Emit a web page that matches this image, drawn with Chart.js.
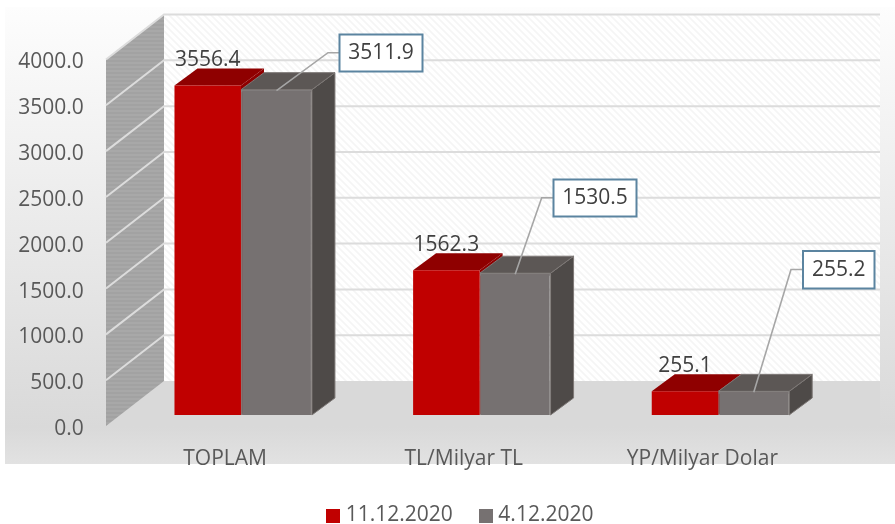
<!DOCTYPE html>
<html>
<head>
<meta charset="utf-8">
<title>Chart</title>
<style>html,body{margin:0;padding:0;background:#fff}canvas{display:block}</style>
<script src="https://cdn.jsdelivr.net/npm/chart.js@4"></script>
</head>
<body>
<canvas id="c" width="895" height="524"></canvas>
<script>
const categories = ['TOPLAM', 'TL/Milyar TL', 'YP/Milyar Dolar'];
const seriesA = [3556.4, 1562.3, 255.1];
const seriesB = [3511.9, 1530.5, 255.2];
const seriesNames = ['11.12.2020', '4.12.2020'];
const axisMax = 4000;
const axisStep = 500;

const FONT = '"Open Sans", "Noto Sans", sans-serif';
const WALL = { dx: 58, dy: -45, lift: -3, floorRight: 880 };
const DEPTH = { dx: 23, dy: -17 };
const CALLOUTS = [
  { box: [339.5, 34.5, 83, 37], bend: [328, 52.7] },
  { box: [553.5, 179.5, 83, 37], bend: [541.7, 197.7] },
  { box: [803, 251, 71.5, 37.5], bend: [791, 269.5] }
];

function hatchPattern(ctx) {
  const p = document.createElement('canvas');
  p.width = p.height = 7;
  const g = p.getContext('2d');
  g.fillStyle = '#ffffff'; g.fillRect(0, 0, 7, 7);
  g.strokeStyle = '#f5f5f5'; g.lineWidth = 1.6;
  g.beginPath();
  g.moveTo(-1, -1); g.lineTo(8, 8);
  g.moveTo(-8, -1); g.lineTo(1, 8);
  g.moveTo(6, -1); g.lineTo(15, 8);
  g.stroke();
  return ctx.createPattern(p, 'repeat');
}
function stripePattern(ctx) {
  const p = document.createElement('canvas');
  p.width = 4; p.height = 4;
  const g = p.getContext('2d');
  g.fillStyle = '#a8a8a8'; g.fillRect(0, 0, 4, 4);
  g.fillStyle = '#a2a2a2'; g.fillRect(0, 0, 4, 2);
  return ctx.createPattern(p, 'repeat');
}
function swatch(color) {
  const p = document.createElement('canvas');
  p.width = p.height = 14;
  const g = p.getContext('2d');
  g.fillStyle = color; g.fillRect(0, 0, 14, 14);
  return p;
}
function poly(ctx, pts, fill, stroke, lw) {
  ctx.beginPath();
  pts.forEach((q, i) => i ? ctx.lineTo(q[0], q[1]) : ctx.moveTo(q[0], q[1]));
  ctx.closePath();
  if (fill) { ctx.fillStyle = fill; ctx.fill(); }
  if (stroke) { ctx.strokeStyle = stroke; ctx.lineWidth = lw || 1; ctx.stroke(); }
}

const scene = {
  id: 'scene',
  afterLayout(chart) {
    const l = chart.legend;
    const pad = l.options.labels.padding;
    const h = l.height;
    l.top = 505 - pad; l.bottom = l.top + h;
    l.left += 43; l.right += 43;
    chart.scales.x.bottom += 15;
  },
  beforeDraw(chart) {
    const ctx = chart.ctx;
    const y = chart.scales.y;
    const frontX = 106, backX = frontX + WALL.dx, rightX = WALL.floorRight;
    const y0 = y.getPixelForValue(0) + WALL.lift, yT = y.getPixelForValue(axisMax) + WALL.lift;
    ctx.save();
    // panel background
    const g = ctx.createLinearGradient(0, 7, 0, 464);
    g.addColorStop(0, '#fdfdfd');
    g.addColorStop(0.92, '#d9d9d9');
    g.addColorStop(1, '#e2e2e2');
    ctx.fillStyle = g;
    ctx.fillRect(5, 7, 890, 457);
    // floor
    poly(ctx, [[backX, y0 + WALL.dy], [rightX, y0 + WALL.dy], [rightX, y0], [frontX, y0]], '#d9d9d9');
    // back wall
    poly(ctx, [[backX, yT + WALL.dy], [rightX, yT + WALL.dy], [rightX, y0 + WALL.dy], [backX, y0 + WALL.dy]], hatchPattern(ctx));
    // left wall
    poly(ctx, [[frontX, yT], [backX, yT + WALL.dy], [backX, y0 + WALL.dy], [frontX, y0]], stripePattern(ctx));
    // grid
    ctx.strokeStyle = '#dcdcdc';
    ctx.lineWidth = 2;
    y.ticks.forEach(t => {
      if (t.value === 0) return;
      const py = y.getPixelForValue(t.value) + WALL.lift;
      ctx.beginPath();
      ctx.moveTo(frontX, py);
      ctx.lineTo(backX, py + WALL.dy);
      ctx.lineTo(rightX, py + WALL.dy);
      ctx.stroke();
    });
    ctx.restore();
  },
  beforeDatasetsDraw(chart) {
    const ctx = chart.ctx;
    ctx.save();
    // bar tops and sides
    const tops = ['#8f0000', '#5c5755'];
    const sides = ['#8f0000', '#4e4a48'];
    [0, 1].forEach(di => {
      chart.getDatasetMeta(di).data.forEach(b => {
        const hw = b.width / 2, L = b.x - hw, R = b.x + hw, T = b.y, B = b.base;
        const d = DEPTH;
        if (di === 1) { ctx.fillStyle = '#767171'; ctx.fillRect(L, T - 0.5, b.width, 3); }
        poly(ctx, [[R, T], [R + d.dx, T + d.dy], [R + d.dx, B + d.dy], [R, B]], sides[di], di ? '#7d7876' : null, 1);
        poly(ctx, [[L, T], [L + d.dx, T + d.dy], [R + d.dx, T + d.dy], [R, T]], tops[di], di ? '#7d7876' : null, 1);
      });
    });
    ctx.restore();
  },
  afterDatasetsDraw(chart) {
    const ctx = chart.ctx;
    ctx.save();
    ctx.font = '21px ' + FONT;
    ctx.textAlign = 'center';
    ctx.textBaseline = 'middle';
    // labels for the first series
    chart.getDatasetMeta(0).data.forEach((b, i) => {
      ctx.fillStyle = '#404040';
      ctx.fillText(seriesA[i].toFixed(1), b.x, b.y - 25.5);
    });
    // callouts for the second series
    chart.getDatasetMeta(1).data.forEach((b, i) => {
      const c = CALLOUTS[i];
      const [x, yy, w, h] = c.box;
      ctx.strokeStyle = '#a6a6a6';
      ctx.lineWidth = 1.6;
      ctx.beginPath();
      ctx.moveTo(b.x, b.y + 1);
      ctx.lineTo(c.bend[0], c.bend[1]);
      ctx.lineTo(x, c.bend[1]);
      ctx.stroke();
      ctx.fillStyle = '#ffffff';
      ctx.fillRect(x, yy, w, h);
      ctx.strokeStyle = '#5b84a0';
      ctx.lineWidth = 2;
      ctx.strokeRect(x, yy, w, h);
      ctx.fillStyle = '#404040';
      ctx.fillText(seriesB[i].toFixed(1), x + w / 2, yy + h / 2);
    });
    ctx.restore();
  }
};

new Chart(document.getElementById('c'), {
  type: 'bar',
  data: {
    labels: categories,
    datasets: [
      { label: seriesNames[0], data: seriesA, yAxisID: 'yBars', backgroundColor: '#c00000', maxBarThickness: 66.5 },
      { label: seriesNames[1], data: seriesB, yAxisID: 'yBars', backgroundColor: '#767171', borderColor: '#8b8785', borderWidth: 1 }
    ]
  },
  options: {
    responsive: false,
    animation: false,
    events: [],
    layout: { padding: { top: 62.5, right: 56.3, left: 0, bottom: 0 } },
    datasets: { bar: { categoryPercentage: 0.5765, barPercentage: 1.03 } },
    scales: {
      x: {
        grid: { display: false, drawTicks: false },
        border: { display: false },
        ticks: { color: '#595959', font: { family: FONT, size: 21 }, padding: 17.5, labelOffset: -17, maxRotation: 0, autoSkip: false },
        afterFit(s) { s.height = 33; }
      },
      y: {
        position: 'left',
        min: 0,
        max: axisMax,
        grid: { display: false, drawTicks: false },
        border: { display: false },
        ticks: { stepSize: axisStep, color: '#595959', font: { family: FONT, size: 21 }, padding: 39, callback: v => v.toFixed(1) },
        afterFit(s) { s.width = 122.8; }
      },
      yBars: { display: false, position: 'left', min: -151.4, max: 3805 }
    },
    plugins: {
      tooltip: { enabled: false },
      title: { display: false },
      legend: {
        display: true,
        position: 'bottom',
        labels: {
          color: '#595959',
          font: { family: FONT, size: 21 },
          usePointStyle: true,
          boxWidth: 4,
          boxHeight: 14,
          padding: 31,
          generateLabels(chart) {
            const items = Chart.defaults.plugins.legend.labels.generateLabels(chart);
            items.forEach(it => { it.pointStyle = swatch(it.fillStyle); });
            return items;
          }
        }
      }
    }
  },
  plugins: [scene]
});
</script>
</body>
</html>
